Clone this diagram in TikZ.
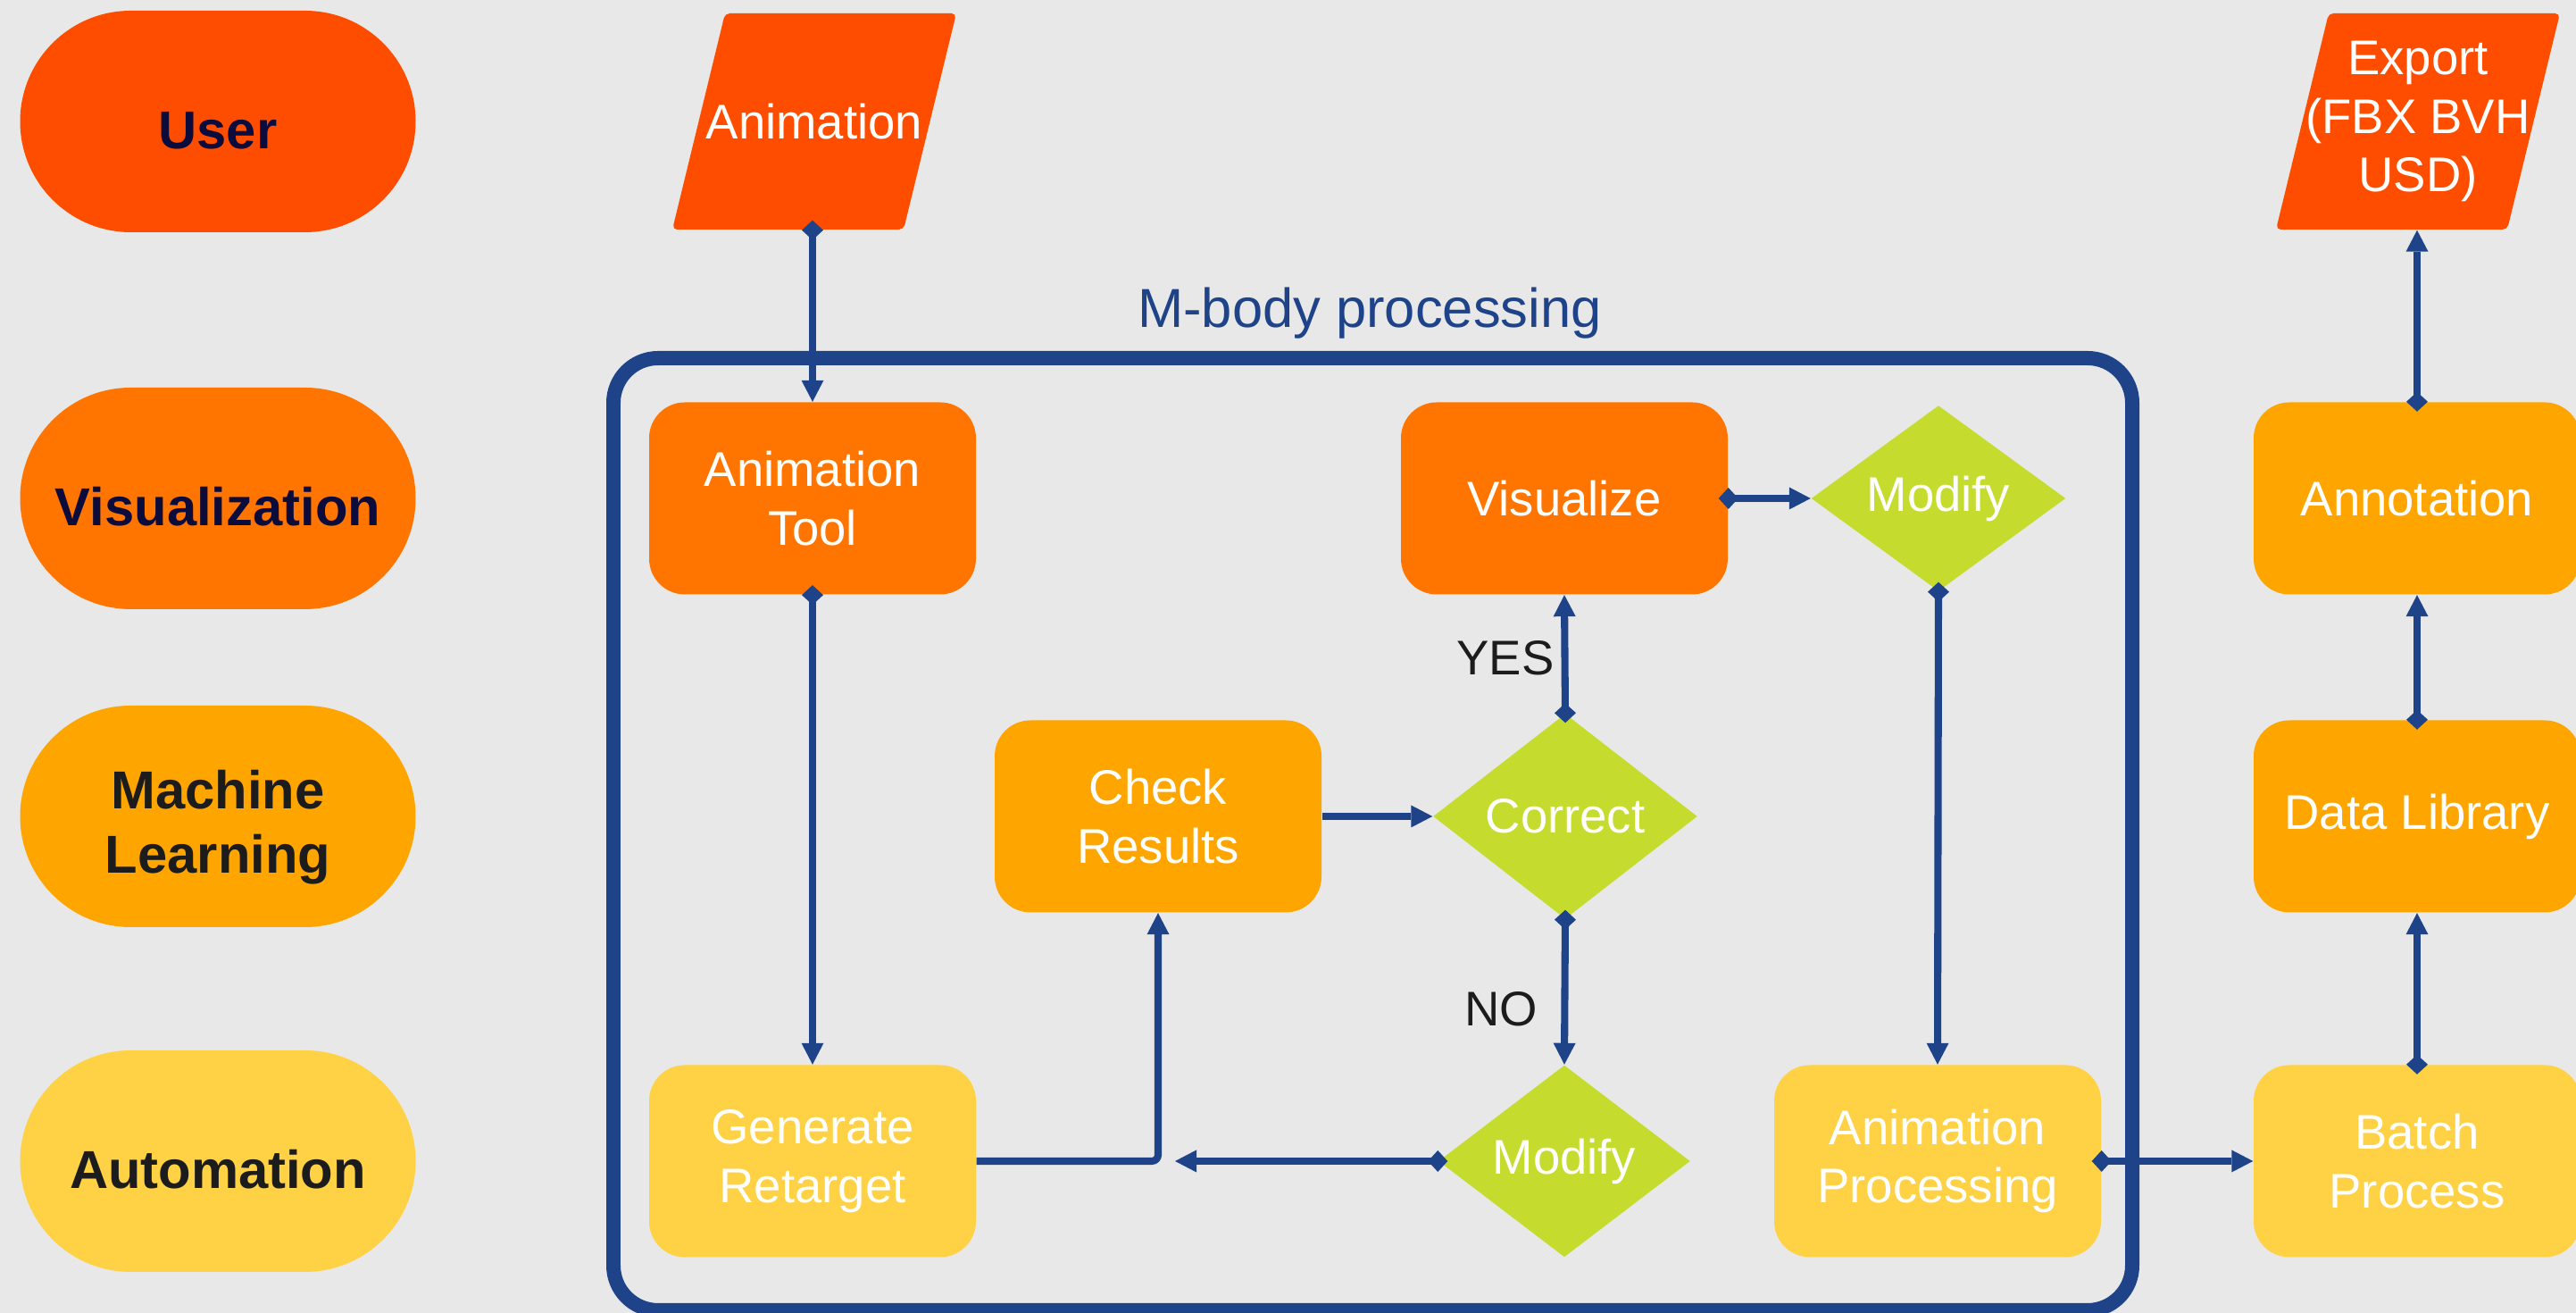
\documentclass[tikz,border=0pt]{standalone}
\usepackage{fontspec}
\setmainfont{Liberation Sans}
\usetikzlibrary{positioning,shapes.geometric,shapes.misc,arrows.meta,calc}
\definecolor{mbblue}{RGB}{30,67,137}
\definecolor{mbuser}{RGB}{255,77,0}
\definecolor{mbvis}{RGB}{255,117,0}
\definecolor{mbml}{RGB}{255,165,0}
\definecolor{mbauto}{RGB}{255,209,69}
\definecolor{mbdec}{RGB}{197,220,47}
\definecolor{mbbg}{RGB}{232,232,232}
\definecolor{mbnavy}{RGB}{12,12,60}
\definecolor{mbdark}{RGB}{28,28,28}
% slanted input/output box: name, centre, text
\newcommand{\mbio}[3]{%
  \fill[mbuser,rounded corners=1.5pt] ($(#2)+(-1.59,-1.21)$) -- ($(#2)+(1.0,-1.21)$)
    -- ($(#2)+(1.59,1.21)$) -- ($(#2)+(-1.0,1.21)$) -- cycle;%
  \node[iotext] (#1) at (#2) {#3};}

\begin{document}
\begin{tikzpicture}[x=1cm,y=1cm,
  lane/.style={rounded rectangle, minimum width=4.43cm, minimum height=2.48cm,
    inner sep=0pt, align=center, font=\fontsize{17}{20.4}\selectfont\bfseries},
  proc/.style={rectangle, rounded corners=0.4cm, minimum width=3.66cm,
    minimum height=2.15cm, inner sep=0pt, align=center, text=white,
    font=\fontsize{15.5}{18.6}\selectfont},
  decide/.style={diamond, fill=mbdec, aspect=1.3, inner sep=0pt, text=white,
    font=\fontsize{15.5}{18.6}\selectfont},
  iotext/.style={minimum height=2.42cm, inner sep=0pt, align=center, text=white,
    font=\fontsize{15.5}{18.6}\selectfont},
  flow/.style={draw=mbblue, line width=2.3pt, shorten <=-1.1mm,
    {Diamond[length=2.2mm,width=2.4mm,line width=0pt]}-{Triangle[length=2.4mm,width=2.5mm,line width=0pt]}},
  feed/.style={draw=mbblue, line width=2.3pt, -{Triangle[length=2.4mm,width=2.5mm,line width=0pt]}},
  lbl/.style={font=\fontsize{15.5}{18.6}\selectfont, text=mbdark}]
  \fill[mbbg] (0,0) rectangle (28.85,14.70);
  \useasboundingbox (0,0) rectangle (28.85,14.70);
  % --- lanes (left column), \th lowers the label a little ---
  \foreach \ly/\lab/\col/\tc/\nm/\th in {13.34/User/mbuser/mbnavy/user/17.5pt,
        9.12/Visualization/mbvis/mbnavy/vis/17.5pt,
        5.56/{Machine\\Learning}/mbml/mbdark/ml/39.6pt,
        1.70/Automation/mbauto/mbdark/auto/17.5pt}{%
    \node[lane, fill=\col, text=\tc, text height=\th] (\nm) at (2.44,\ly) {\lab};}
  % --- M-body processing frame ---
  \draw[mbblue, line width=4.55pt, rounded corners=0.5cm] (6.87,0.03) rectangle (23.88,10.69);
  \node[anchor=base, text=mbblue, font=\fontsize{17.5}{21}\selectfont] (mbody) at (15.34,11.03) {M-body processing};
  % --- input / output ---
  \mbio{anim}{9.12,13.34}{Animation}
  \mbio{export}{27.08,13.34}{Export\\(FBX BVH\\USD)}
  % --- process steps ---
  \node[proc, fill=mbvis] (tool) at (9.10,9.12) {Animation\\Tool};
  \node[proc, fill=mbvis] (visual) at (17.52,9.12) {Visualize};
  \node[decide, minimum width=2.85cm, minimum height=2.08cm] (modtop) at (21.71,9.12) {Modify};
  \node[proc, fill=mbml] (check) at (12.97,5.56) {Check\\Results};
  \node[decide, minimum width=2.96cm, minimum height=2.30cm] (correct) at (17.53,5.56) {Correct};
  \node[proc, fill=mbauto] (retarget) at (9.10,1.70) {Generate\\Retarget};
  \node[decide, minimum width=2.82cm, minimum height=2.15cm] (modbot) at (17.52,1.70) {Modify};
  \node[proc, fill=mbauto] (animproc) at (21.70,1.70) {Animation\\Processing};
  % --- right column ---
  \node[proc, fill=mbml] (annot) at (27.07,9.12) {Annotation};
  \node[proc, fill=mbml] (datalib) at (27.07,5.56) {Data Library};
  \node[proc, fill=mbauto] (batch) at (27.07,1.70) {Batch\\Process};
  % --- branch labels ---
  \node[lbl] (yes) at (16.86,7.33) {YES};
  \node[lbl] (no) at (16.81,3.40) {NO};
  \coordinate (back) at ($(check.south |- modbot.west)+(0.19,0)$);
  % --- connectors ---
  \draw[flow] (tool.north |- anim.south) -- (tool.north);
  \draw[flow] (tool.south) -- (retarget.north);
  \draw[feed, rounded corners=2pt] (retarget.east) -| (check.south);
  \draw[flow] (modbot.west) -- (back);
  \draw[feed] (check.east) -- (correct.west);
  \draw[flow] (correct.north) -- (visual.south);
  \draw[flow] (correct.south) -- (modbot.north);
  \draw[flow] (visual.east) -- (modtop.west);
  \draw[flow] (modtop.south) -- (animproc.north);
  \draw[flow] (animproc.east) -- (batch.west);
  \draw[flow] (batch.north) -- (datalib.south);
  \draw[flow] (datalib.north) -- (annot.south);
  \draw[flow] (annot.north) -- (annot.north |- export.south);
\end{tikzpicture}
\end{document}
